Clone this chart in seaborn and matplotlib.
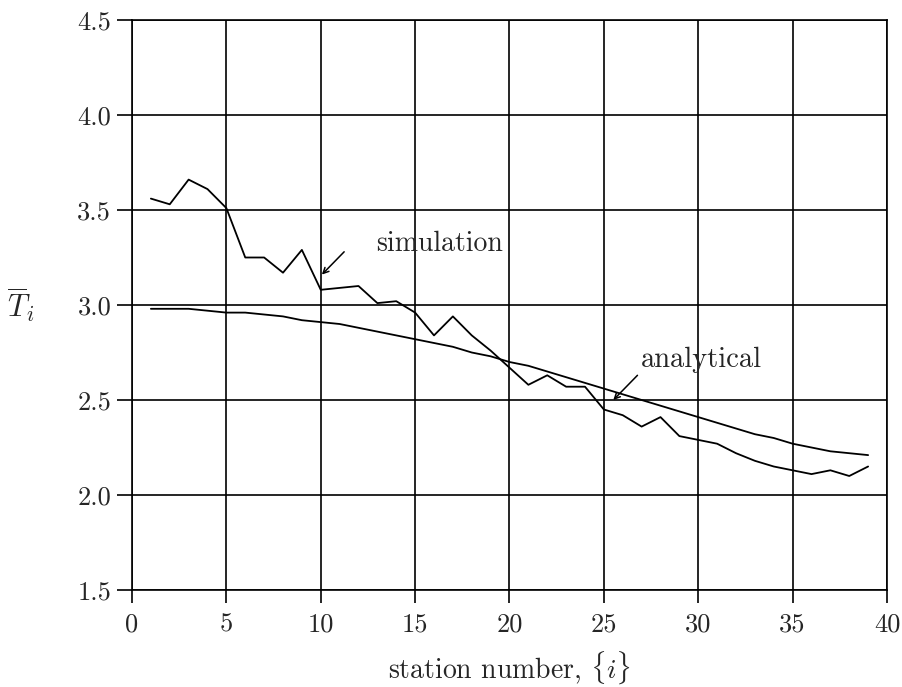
import matplotlib
matplotlib.use("Agg")
import matplotlib.pyplot as plt
import seaborn as sns
import pandas as pd
import numpy as np

stations = list(range(1, 40))
simulation = [3.56, 3.53, 3.66, 3.61, 3.51, 3.25, 3.25, 3.17, 3.29, 3.08,
              3.09, 3.10, 3.01, 3.02, 2.96, 2.84, 2.94, 2.84, 2.76, 2.67,
              2.58, 2.63, 2.57, 2.57, 2.45, 2.42, 2.36, 2.41, 2.31, 2.29,
              2.27, 2.22, 2.18, 2.15, 2.13, 2.11, 2.13, 2.10, 2.15]
analytical = [2.98, 2.98, 2.98, 2.97, 2.96, 2.96, 2.95, 2.94, 2.92, 2.91,
              2.90, 2.88, 2.86, 2.84, 2.82, 2.80, 2.78, 2.75, 2.73, 2.70,
              2.68, 2.65, 2.62, 2.59, 2.56, 2.53, 2.50, 2.47, 2.44, 2.41,
              2.38, 2.35, 2.32, 2.30, 2.27, 2.25, 2.23, 2.22, 2.21]
x_ticks = [0, 5, 10, 15, 20, 25, 30, 35, 40]
y_ticks = [1.5, 2.0, 2.5, 3.0, 3.5, 4.0, 4.5]

sns.set_style("white")
plt.rcParams['font.family'] = ['cmr10', 'DejaVu Serif']
plt.rcParams['mathtext.fontset'] = 'cm'
plt.rcParams['axes.formatter.use_mathtext'] = True

df = pd.DataFrame({"station": stations + stations,
                   "T": simulation + analytical,
                   "series": ["simulation"] * len(stations) + ["analytical"] * len(stations)})

fig = plt.figure(figsize=(9.03, 6.87), dpi=100)
ax = fig.add_axes([132/903, 1 - 590/687, (887-132)/903, (590-20)/687])

sns.lineplot(data=df, x="station", y="T", units="series", estimator=None,
             color="black", linewidth=1.3, ax=ax, legend=False)

ax.set_xlim(0, 40)
ax.set_ylim(1.5, 4.5)
ax.set_xticks(x_ticks)
ax.set_xticklabels([str(v) for v in x_ticks])
ax.set_yticks(y_ticks)
ax.set_yticklabels([f"{v:.1f}" for v in y_ticks])
ax.grid(True, color="black", linewidth=1.2)
for s in ax.spines.values():
    s.set_color("black")
    s.set_linewidth(1.2)
ax.tick_params(axis="both", direction="out", width=1.2, color="black",
               labelsize=19, bottom=True, left=True)
ax.tick_params(axis="y", length=11, pad=4)
ax.tick_params(axis="x", length=9.5, pad=7)

ax.set_xlabel(r"station number, $\{i\}$", fontsize=20)
ax.xaxis.set_label_coords(0.5, -0.137)
ax.xaxis.label.set_va("center")
ax.set_ylabel(r"$\overline{T}_i$", fontsize=22, rotation=0, va="center")
ax.yaxis.set_label_coords(-0.147, 0.5)

arrow = dict(arrowstyle="->", color="black", lw=1.1, shrinkA=0, shrinkB=0)
ax.annotate("", xy=(10.06, 3.16), xytext=(11.24, 3.28), arrowprops=arrow)
ax.text(12.95, 3.32, "simulation", fontsize=20, va="center", ha="left")
ax.annotate("", xy=(25.5, 2.50), xytext=(26.78, 2.63), arrowprops=arrow)
ax.text(26.95, 2.71, "analytical", fontsize=20.5, va="center", ha="left")

fig.savefig("out.png", dpi=100)
